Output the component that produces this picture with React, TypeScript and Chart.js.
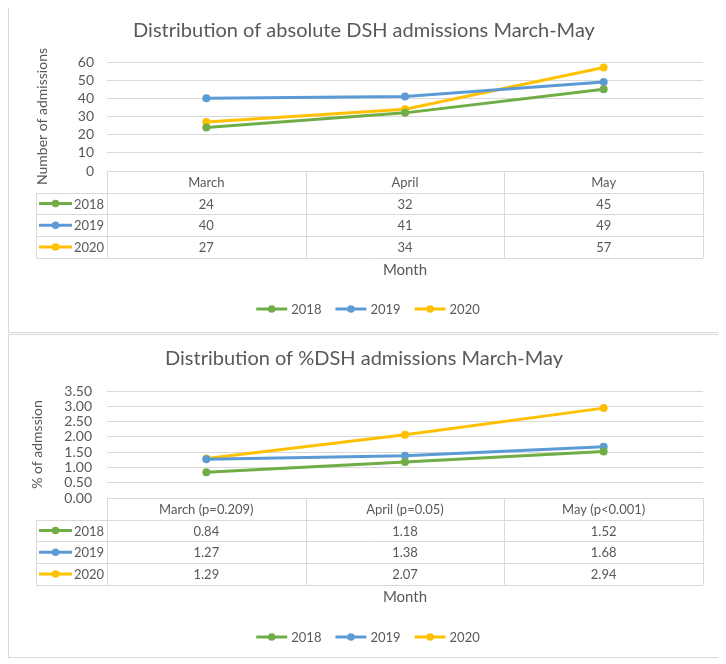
import React, { useEffect, useRef, useState } from 'react';
import { Chart, registerables } from 'chart.js';

Chart.register(...registerables);

// ---- data ----
const monthsAbs = ['March', 'April', 'May'];
const monthsPct = ['March (p=0.209)', 'April (p=0.05)', 'May (p<0.001)'];
const years = ['2018', '2019', '2020'];
const abs2018 = [24, 32, 45];
const abs2019 = [40, 41, 49];
const abs2020 = [27, 34, 57];
const pct2018 = [0.84, 1.18, 1.52];
const pct2019 = [1.27, 1.38, 1.68];
const pct2020 = [1.29, 2.07, 2.94];
const absTicks = [0, 10, 20, 30, 40, 50, 60];
const pctTicks = [0, 0.5, 1, 1.5, 2, 2.5, 3, 3.5];

const COLORS = ['#70AD47', '#5B9BD5', '#FFC000'];
const TEXT = '#595959';
const GRID = '#d9d9d9';
const FONT = 'Lato, "Open Sans", sans-serif';

// Excel-like data table + axis title + legend drawn below the plot
const tablePlugin = {
  id: 'excelTable',
  afterDraw(chart: any) {
    const opts = chart.config.options.excelCfg;
    const { ctx, chartArea, scales } = chart;
    const xs = scales.x;
    const labels: string[] = chart.data.labels;
    const datasets = chart.data.datasets;
    const n = labels.length;
    const colW = (chartArea.right - chartArea.left) / n;
    const rowH = opts.rowH;
    const top = chartArea.bottom;
    const rows = datasets.length;
    const px = (v: number) => Math.round(v) + 0.5;

    ctx.save();
    ctx.strokeStyle = GRID;
    ctx.lineWidth = 1;
    ctx.beginPath();
    for (let r = 1; r <= rows + 1; r++) {
      const y = px(top + rowH * r);
      ctx.moveTo(opts.keyLeft, y);
      ctx.lineTo(chartArea.right, y);
    }
    for (let i = 0; i <= n; i++) {
      const c = i < n ? xs.getPixelForValue(i) - colW / 2 : xs.getPixelForValue(n - 1) + colW / 2;
      const x = px(c);
      ctx.moveTo(x, top);
      ctx.lineTo(x, top + rowH * (rows + 1));
    }
    ctx.moveTo(px(opts.keyLeft), top + rowH);
    ctx.lineTo(px(opts.keyLeft), top + rowH * (rows + 1));
    ctx.stroke();

    ctx.fillStyle = TEXT;
    ctx.font = `13px ${FONT}`;
    ctx.textAlign = 'center';
    ctx.textBaseline = 'middle';
    labels.forEach((l, i) => {
      ctx.fillText(l, xs.getPixelForValue(i), top + rowH / 2 + 1);
    });
    datasets.forEach((ds: any, r: number) => {
      const yc = top + rowH * (r + 1.5) + 1;
      ds.data.forEach((v: number, i: number) => {
        ctx.fillStyle = TEXT;
        ctx.textAlign = 'center';
        ctx.fillText(Number(v).toFixed(opts.decimals), xs.getPixelForValue(i), yc);
      });
      const kx = opts.keyLeft + 3;
      ctx.strokeStyle = ds.borderColor;
      ctx.lineWidth = 3;
      ctx.beginPath();
      ctx.moveTo(kx, yc - 1);
      ctx.lineTo(kx + 33, yc - 1);
      ctx.stroke();
      ctx.fillStyle = ds.borderColor;
      ctx.beginPath();
      ctx.arc(kx + 16.5, yc - 1, 3.8, 0, Math.PI * 2);
      ctx.fill();
      ctx.fillStyle = TEXT;
      ctx.textAlign = 'left';
      ctx.fillText(ds.label, kx + 35, yc);
    });

    ctx.font = `15px ${FONT}`;
    ctx.textAlign = 'center';
    ctx.fillStyle = TEXT;
    ctx.fillText(opts.xTitle, (chartArea.left + chartArea.right) / 2, opts.xTitleY);

    ctx.font = `13px ${FONT}`;
    const lineW = 31;
    const gap = 4;
    const itemGap = 14;
    const widths = datasets.map((ds: any) => lineW + gap + ctx.measureText(ds.label).width);
    const total = widths.reduce((a: number, b: number) => a + b, 0) + itemGap * (datasets.length - 1);
    let lx = chart.width / 2 - total / 2 + opts.legendShift;
    const ly = opts.legendY;
    datasets.forEach((ds: any, i: number) => {
      ctx.strokeStyle = ds.borderColor;
      ctx.lineWidth = 3;
      ctx.beginPath();
      ctx.moveTo(lx, ly);
      ctx.lineTo(lx + lineW, ly);
      ctx.stroke();
      ctx.fillStyle = ds.borderColor;
      ctx.beginPath();
      ctx.arc(lx + lineW / 2, ly, 3.8, 0, Math.PI * 2);
      ctx.fill();
      ctx.fillStyle = TEXT;
      ctx.textAlign = 'left';
      ctx.fillText(ds.label, lx + lineW + gap, ly + 1);
      lx += widths[i] + itemGap;
    });
    ctx.restore();
  },
};

type PanelProps = {
  top: number;
  height: number;
  title: string;
  labels: string[];
  series: number[][];
  ticks: number[];
  step: number;
  decimals: number;
  yTitle: string;
  yTitlePad: number;
  tickPad: number;
  titleBottomPad: number;
  padBottom: number;
  xTitleY: number;
  legendY: number;
};

function Panel(p: PanelProps) {
  const ref = useRef<HTMLCanvasElement>(null);
  const [err, setErr] = useState('');
  useEffect(() => {
    const canvas = ref.current!;
    let chart: any = null;
    try {
      chart = new Chart(canvas, {
        type: 'line',
        data: {
          labels: p.labels,
          datasets: p.series.map((s, i) => ({
            label: years[i],
            data: s,
            borderColor: COLORS[i],
            backgroundColor: COLORS[i],
            borderWidth: 3,
            pointRadius: 4,
            pointBorderWidth: 0,
            pointHoverRadius: 4,
            tension: 0,
          })),
        },
        options: {
          responsive: false,
          animation: false,
          excelCfg: {
            rowH: 21.7,
            keyLeft: 27,
            decimals: p.decimals,
            xTitle: 'Month',
            xTitleY: p.xTitleY,
            legendY: p.legendY,
            legendShift: 4,
          },
          layout: { padding: { left: 16, right: 16, top: 0, bottom: p.padBottom } },
          plugins: {
            legend: { display: false },
            tooltip: { enabled: false },
            title: {
              display: true,
              text: p.title,
              color: TEXT,
              font: { family: FONT, size: 20, weight: 'normal' },
              padding: { top: 12, bottom: p.titleBottomPad },
            },
          },
          scales: {
            x: { type: 'category', display: false, offset: true },
            y: {
              min: p.ticks[0],
              max: p.ticks[p.ticks.length - 1],
              afterBuildTicks: (scale: any) => {
                scale.ticks = p.ticks.map((v) => ({ value: v }));
              },
              ticks: {
                autoSkip: false,
                stepSize: p.step,
                padding: p.tickPad,
                color: TEXT,
                font: { family: FONT, size: 14 },
                callback: (v: any) => Number(v).toFixed(p.decimals),
              },
              grid: { color: GRID, lineWidth: 1, drawTicks: false },
              border: { display: false },
              title: {
                display: true,
                text: p.yTitle,
                color: TEXT,
                font: { family: FONT, size: 14 },
                padding: { top: p.yTitlePad, bottom: 0 },
              },
              afterFit: (scale: any) => {
                scale.width = 82;
              },
            },
          },
        } as any,
        plugins: [tablePlugin],
      });
    } catch (e: any) {
      setErr(String(e && e.stack ? e.stack : e));
    }
    return () => {
      if (chart) chart.destroy();
    };
  }, []);
  return (
    <div
      style={{
        position: 'absolute',
        left: 0,
        top: p.top,
        width: 710,
        height: p.height,
        border: '1px solid #d9d9d9',
        background: '#fff',
      }}
    >
      <canvas ref={ref} width={710} height={p.height} style={{ display: 'block', width: 710, height: p.height }} />
      {err ? <pre style={{ position: 'absolute', top: 0, left: 0, fontSize: 10 }}>{err}</pre> : null}
    </div>
  );
}

export default function App() {
  return (
    <div style={{ position: 'relative', height: 650 }}>
      <Panel
        top={-2}
        height={325}
        title="Distribution of absolute DSH admissions March-May"
        labels={monthsAbs}
        series={[abs2018, abs2019, abs2020]}
        ticks={absTicks}
        step={10}
        decimals={0}
        yTitle="Number of admissions"
        yTitlePad={9}
        tickPad={13}
        titleBottomPad={19}
        padBottom={161}
        xTitleY={263}
        legendY={302}
      />
      <Panel
        top={326}
        height={322}
        title="Distribution of %DSH admissions March-May"
        labels={monthsPct}
        series={[pct2018, pct2019, pct2020]}
        ticks={pctTicks}
        step={0.5}
        decimals={2}
        yTitle="% of admssion"
        yTitlePad={4}
        tickPad={15}
        titleBottomPad={20}
        padBottom={159}
        xTitleY={262}
        legendY={302}
      />
    </div>
  );
}
